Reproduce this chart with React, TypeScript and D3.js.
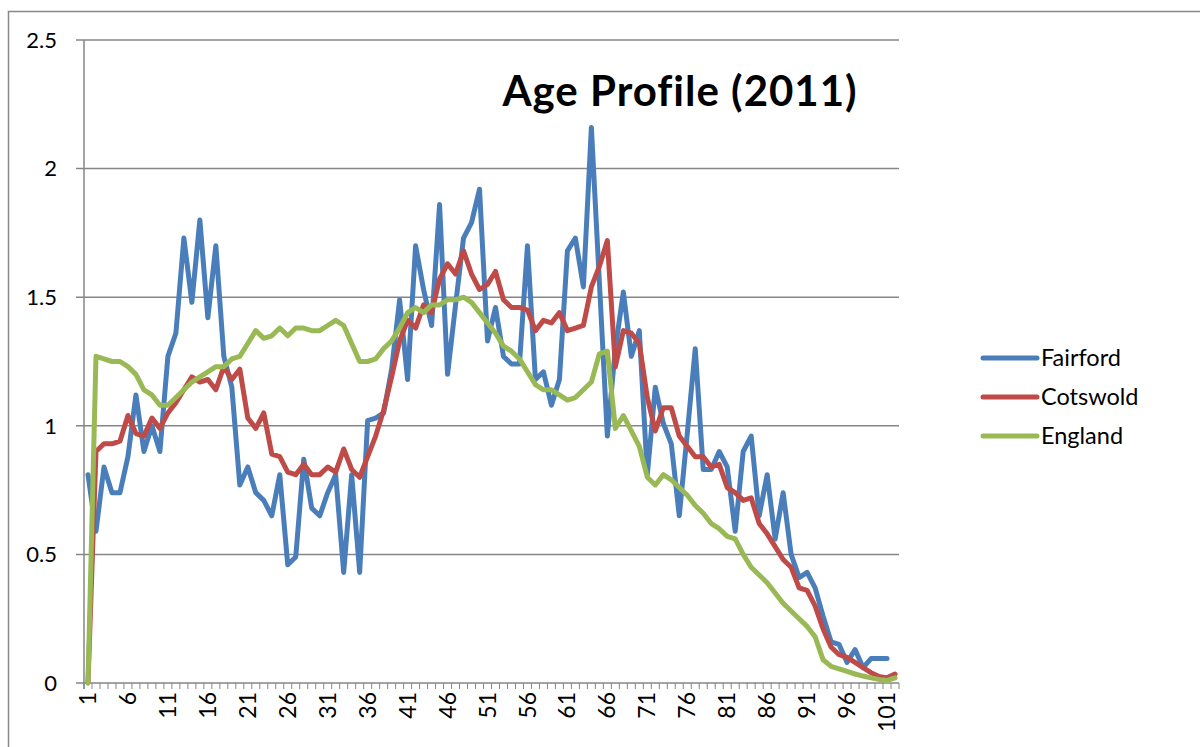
import React from "react";
import * as d3 from "d3";

// age bands as labelled on the category axis (Excel row numbers 1..102)
const categories: string[] = d3.range(1, 103).map(String);
const yTicks = [0, 0.5, 1, 1.5, 2, 2.5];

// Fairford has no value for the last band
const fairford = [
  0.81, 0.59, 0.84, 0.74, 0.74, 0.88, 1.12, 0.9, 1.0, 0.9,
  1.27, 1.36, 1.73, 1.48, 1.8, 1.42, 1.7, 1.27, 1.15, 0.77,
  0.84, 0.74, 0.71, 0.65, 0.81, 0.46, 0.49, 0.87, 0.68, 0.65,
  0.74, 0.81, 0.43, 0.81, 0.43, 1.02, 1.03, 1.05, 1.22, 1.49,
  1.18, 1.7, 1.53, 1.39, 1.86, 1.2, 1.47, 1.73, 1.79, 1.92,
  1.33, 1.46, 1.27, 1.24, 1.24, 1.7, 1.18, 1.21, 1.08, 1.18,
  1.68, 1.73, 1.54, 2.16, 1.56, 0.96, 1.3, 1.52, 1.27, 1.37,
  0.81, 1.15, 1.01, 0.93, 0.65, 0.97, 1.3, 0.83, 0.83, 0.9,
  0.84, 0.59, 0.9, 0.96, 0.65, 0.81, 0.56, 0.74, 0.5, 0.41,
  0.43, 0.37, 0.26, 0.16, 0.15, 0.08, 0.13, 0.06, 0.095, 0.095,
  0.095,
];

const cotswold = [
  0, 0.9, 0.93, 0.93, 0.94, 1.04, 0.97, 0.96, 1.03, 0.99,
  1.05, 1.09, 1.14, 1.19, 1.17, 1.18, 1.14, 1.23, 1.18, 1.22,
  1.03, 0.99, 1.05, 0.89, 0.88, 0.82, 0.81, 0.85, 0.81, 0.81,
  0.84, 0.82, 0.91, 0.83, 0.8, 0.88, 0.96, 1.06, 1.19, 1.33,
  1.41, 1.38, 1.47, 1.44, 1.57, 1.63, 1.59, 1.68, 1.59, 1.53,
  1.55, 1.6, 1.49, 1.46, 1.46, 1.45, 1.37, 1.41, 1.4, 1.44,
  1.37, 1.38, 1.39, 1.54, 1.62, 1.72, 1.23, 1.37, 1.36, 1.32,
  1.11, 0.98, 1.07, 1.07, 0.96, 0.92, 0.88, 0.88, 0.84, 0.85,
  0.76, 0.74, 0.71, 0.72, 0.62, 0.58, 0.53, 0.48, 0.45, 0.37,
  0.36, 0.3, 0.21, 0.14, 0.11, 0.1, 0.08, 0.06, 0.04, 0.025,
  0.02, 0.035,
];

const england = [
  0, 1.27, 1.26, 1.25, 1.25, 1.23, 1.2, 1.14, 1.12, 1.08,
  1.08, 1.11, 1.14, 1.17, 1.19, 1.21, 1.23, 1.23, 1.26, 1.27,
  1.32, 1.37, 1.34, 1.35, 1.38, 1.35, 1.38, 1.38, 1.37, 1.37,
  1.39, 1.41, 1.39, 1.32, 1.25, 1.25, 1.26, 1.3, 1.33, 1.38,
  1.44, 1.46, 1.44, 1.47, 1.47, 1.49, 1.49, 1.5, 1.48, 1.44,
  1.4, 1.36, 1.31, 1.29, 1.26, 1.21, 1.16, 1.14, 1.14, 1.12,
  1.1, 1.11, 1.14, 1.17, 1.28, 1.29, 0.99, 1.04, 0.98, 0.92,
  0.8, 0.77, 0.81, 0.79, 0.76, 0.73, 0.69, 0.66, 0.62, 0.6,
  0.57, 0.56, 0.5, 0.45, 0.42, 0.39, 0.35, 0.31, 0.28, 0.25,
  0.22, 0.18, 0.09, 0.065, 0.055, 0.045, 0.035, 0.027, 0.02, 0.014,
  0.01, 0.02,
];

const series = [
  { name: "Fairford", color: "#4A7EBB", values: fairford },
  { name: "Cotswold", color: "#BE4B48", values: cotswold },
  { name: "England", color: "#98B954", values: england },
];

const W = 1200;
const H = 747;
const plot = { left: 84, right: 899, top: 40, bottom: 683 };
const gridColor = "#868686";
const font = "Lato, 'Open Sans', sans-serif";

export default function App() {
  const x = d3
    .scaleBand<string>()
    .domain(categories)
    .range([plot.left, plot.right]);
  const y = d3.scaleLinear().domain([0, 2.5]).range([plot.bottom, plot.top]);
  const cx = (i: number) => (x(categories[i]) as number) + x.bandwidth() / 2;

  const line = d3
    .line<number>()
    .x((_, i) => cx(i))
    .y((d) => y(d));

  const boundaries = categories.map((c) => x(c) as number).concat([plot.right]);
  const xLabels = categories.filter((_, i) => i % 5 === 0);

  return (
    <svg
      width={W}
      height={H}
      style={{ position: "absolute", left: 0, top: 0, background: "#fff" }}
    >
      <path d={`M8.5,${H} V11.5 H${W}`} fill="none" stroke="#888" strokeWidth={1.5} />

      {/* gridlines + y ticks */}
      {yTicks.map((t) => (
        <g key={t}>
          <line
            x1={plot.left - 8}
            x2={plot.right}
            y1={y(t)}
            y2={y(t)}
            stroke={gridColor}
            strokeWidth={1.5}
          />
          <text
            x={57}
            y={y(t)}
            dy="0.35em"
            textAnchor="end"
            fontFamily={font}
            fontSize={22}
            fill="#000"
          >
            {t}
          </text>
        </g>
      ))}
      <line
        x1={plot.left}
        x2={plot.left}
        y1={plot.top}
        y2={plot.bottom + 6}
        stroke={gridColor}
        strokeWidth={1.5}
      />
      {boundaries.map((b, i) => (
        <line
          key={i}
          x1={b}
          x2={b}
          y1={plot.bottom}
          y2={plot.bottom + 6}
          stroke={gridColor}
          strokeWidth={1}
        />
      ))}
      {xLabels.map((c) => (
        <text
          key={c}
          transform={`translate(${cx(categories.indexOf(c))},${plot.bottom + 9}) rotate(-90)`}
          dy="0.35em"
          textAnchor="end"
          fontFamily={font}
          fontSize={23}
          fill="#000"
        >
          {c}
        </text>
      ))}

      {series.map((s) => (
        <path
          key={s.name}
          d={line(s.values) || ""}
          fill="none"
          stroke={s.color}
          strokeWidth={5}
          strokeLinejoin="round"
          strokeLinecap="round"
        />
      ))}

      <text
        x={680}
        y={106}
        textAnchor="middle"
        fontFamily={font}
        fontWeight="bold"
        fontSize={42}
        letterSpacing={1}
        fill="#000"
      >
        Age Profile (2011)
      </text>

      {series.map((s, i) => (
        <g key={s.name} transform={`translate(0,${358 + i * 39})`}>
          <line x1={983} x2={1037} y1={0} y2={0} stroke={s.color} strokeWidth={5} strokeLinecap="round" />
          <text x={1041} y={0} dy="0.35em" fontFamily={font} fontSize={23.5} fill="#000">
            {s.name}
          </text>
        </g>
      ))}
    </svg>
  );
}
